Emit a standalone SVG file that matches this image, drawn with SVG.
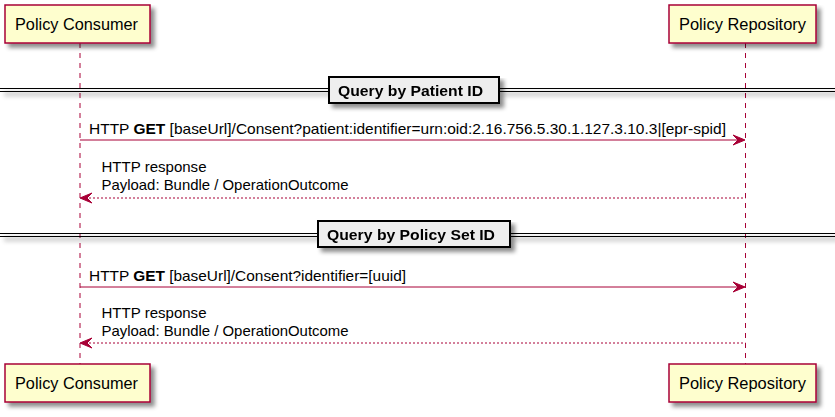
<svg xmlns="http://www.w3.org/2000/svg" width="835" height="417" viewBox="0 0 835 417">
<defs>
<filter id="sh" x="-10%" y="-10%" width="130%" height="160%">
<feGaussianBlur in="SourceAlpha" stdDeviation="2"/>
<feOffset dx="4" dy="4" result="b"/>
<feColorMatrix in="b" type="matrix" values="0 0 0 0 0  0 0 0 0 0  0 0 0 0 0  0 0 0 0.45 0"/>
<feMerge><feMergeNode/><feMergeNode in="SourceGraphic"/></feMerge>
</filter>
</defs>
<style>
.t{font-family:"Liberation Sans",Arial,sans-serif;fill:#000}
.p{fill:#FEFECE;stroke:#A80036;stroke-width:1.5}
.ll{stroke:#A80036;stroke-width:1;stroke-dasharray:5,5;fill:none}
.m{stroke:#A80036;stroke-width:1;fill:none}
.r{stroke:#A80036;stroke-width:1;stroke-dasharray:2,2;fill:none}
.ah{fill:#A80036;stroke:#A80036}
.dl{stroke:#000;stroke-width:1;fill:none}
.db{fill:#EEEEEE;stroke:#000;stroke-width:2}
</style>
<g id="lifelines">
<line class="ll" x1="80" y1="43" x2="80" y2="364"/>
<line class="ll" x1="745.5" y1="43" x2="745.5" y2="364"/>
</g>
<g id="consumer-top"><rect class="p" x="5" y="5" width="145" height="38" filter="url(#sh)"/><text class="t" x="15" y="30" font-size="16" textLength="123" lengthAdjust="spacingAndGlyphs">Policy Consumer</text></g>
<g id="repository-top"><rect class="p" x="669" y="5" width="147" height="38" filter="url(#sh)"/><text class="t" x="679" y="30" font-size="16" textLength="127" lengthAdjust="spacingAndGlyphs">Policy Repository</text></g>
<g id="consumer-bottom"><rect class="p" x="5" y="364" width="145" height="38" filter="url(#sh)"/><text class="t" x="15" y="389" font-size="16" textLength="123" lengthAdjust="spacingAndGlyphs">Policy Consumer</text></g>
<g id="repository-bottom"><rect class="p" x="669" y="364" width="147" height="38" filter="url(#sh)"/><text class="t" x="679" y="389" font-size="16" textLength="127" lengthAdjust="spacingAndGlyphs">Policy Repository</text></g>
<g id="divider-1" filter="url(#sh)">
<line class="dl" x1="0" y1="88.5" x2="835" y2="88.5"/>
<line class="dl" x1="0" y1="91.5" x2="835" y2="91.5"/>
<rect class="db" x="329" y="77" width="170" height="26"/>
<text class="t" x="338" y="96" font-size="15" font-weight="bold" textLength="145" lengthAdjust="spacingAndGlyphs">Query by Patient ID</text>
</g>
<g id="divider-2" filter="url(#sh)">
<line class="dl" x1="0" y1="233.5" x2="835" y2="233.5"/>
<line class="dl" x1="0" y1="236.5" x2="835" y2="236.5"/>
<rect class="db" x="318" y="221" width="192" height="26"/>
<text class="t" x="327" y="240" font-size="15" font-weight="bold" textLength="168" lengthAdjust="spacingAndGlyphs">Query by Policy Set ID</text>
</g>
<g id="connectors">
<line class="m" x1="80" y1="140" x2="744" y2="140"/>
<polygon class="ah" points="733,135 745,140 733,145 738,140"/>
<text class="t" x="89" y="134" font-size="15" textLength="637" lengthAdjust="spacingAndGlyphs">HTTP <tspan font-weight="bold">GET</tspan> [baseUrl]/Consent?patient:identifier=urn:oid:2.16.756.5.30.1.127.3.10.3|[epr-spid]</text>
<line class="r" x1="81" y1="198" x2="745.5" y2="198"/>
<polygon class="ah" points="92,193 80,198 92,203 87,198"/>
<text class="t" x="101.5" y="172" font-size="15" textLength="105" lengthAdjust="spacingAndGlyphs">HTTP response</text>
<text class="t" x="101.5" y="190" font-size="15" textLength="247" lengthAdjust="spacingAndGlyphs">Payload: Bundle / OperationOutcome</text>
<line class="m" x1="80" y1="287" x2="744" y2="287"/>
<polygon class="ah" points="733,282 745,287 733,292 738,287"/>
<text class="t" x="89" y="281" font-size="15" textLength="317" lengthAdjust="spacingAndGlyphs">HTTP <tspan font-weight="bold">GET</tspan> [baseUrl]/Consent?identifier=[uuid]</text>
<line class="r" x1="81" y1="343" x2="745.5" y2="343"/>
<polygon class="ah" points="92,338 80,343 92,348 87,343"/>
<text class="t" x="101.5" y="318" font-size="15" textLength="105" lengthAdjust="spacingAndGlyphs">HTTP response</text>
<text class="t" x="101.5" y="336" font-size="15" textLength="247" lengthAdjust="spacingAndGlyphs">Payload: Bundle / OperationOutcome</text>
</g>
</svg>
